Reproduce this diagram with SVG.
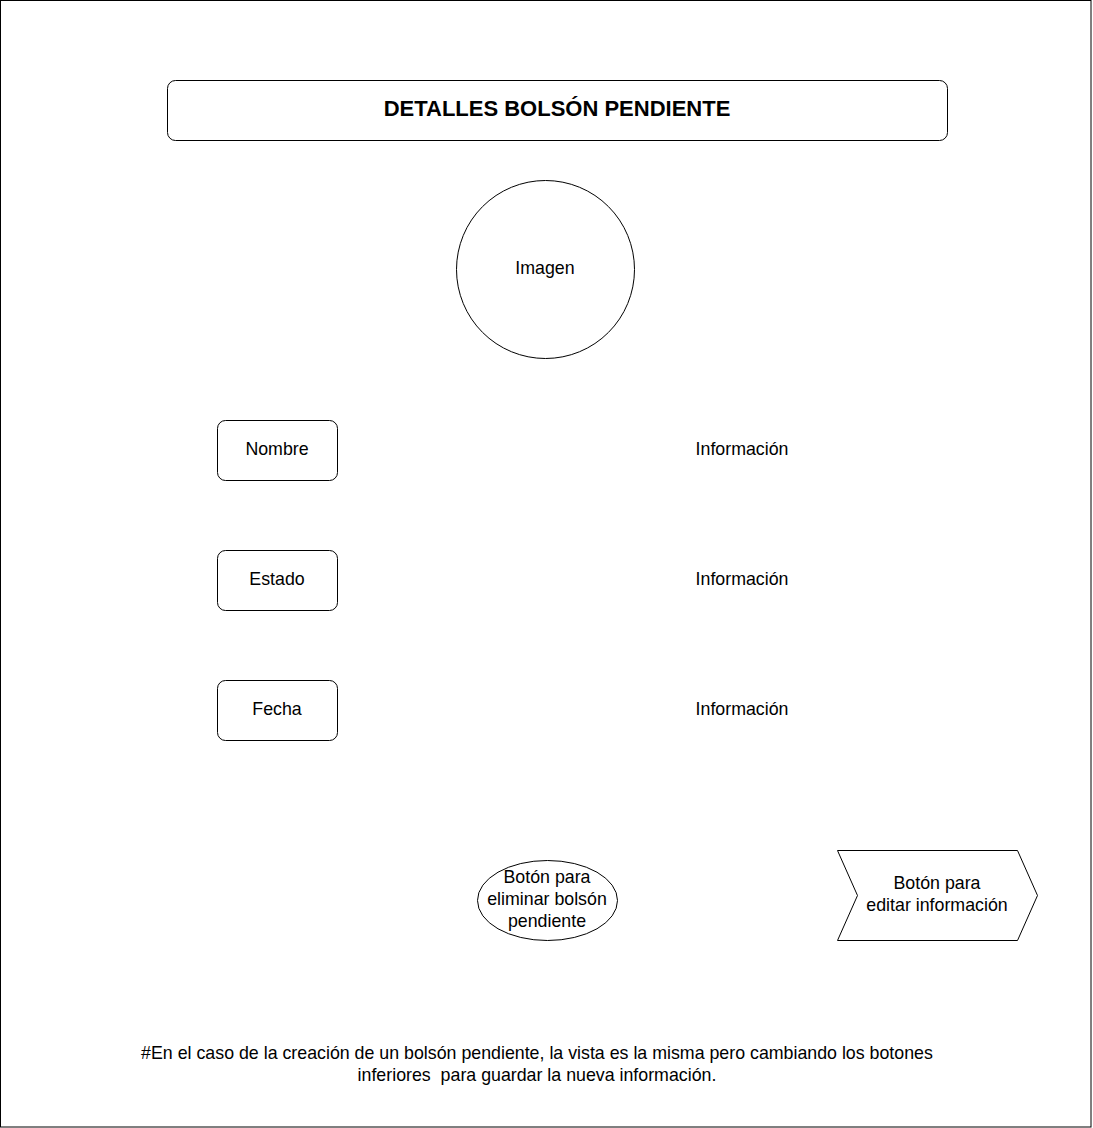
<svg xmlns="http://www.w3.org/2000/svg" width="1093" height="1128" viewBox="0 0 1093 1128">
<style>
.s{fill:#fff;stroke:#000;stroke-width:1}
.t{font-family:"Liberation Sans",Arial,sans-serif;font-size:17.8px;fill:#000;text-anchor:middle}
.b{font-weight:bold;font-size:22px}
</style>
<rect x="0" y="0" width="1093" height="1128" fill="#fff"/>
<g id="frame"><rect x="0.5" y="0.5" width="1090.5" height="1126.5" fill="none" stroke="#000"/></g>
<g id="connectors"></g>
<g id="title"><rect class="s" x="167.5" y="80.5" width="780" height="60" rx="8"/><text class="t b" x="557" y="115.5">DETALLES BOLSÓN PENDIENTE</text></g>
<g id="imagen"><circle class="s" cx="545.5" cy="269.5" r="89"/><text class="t" x="545" y="274">Imagen</text></g>
<g id="nombre"><rect class="s" x="217.5" y="420.5" width="120" height="60" rx="8"/><text class="t" x="277" y="455">Nombre</text></g>
<g id="estado"><rect class="s" x="217.5" y="550.5" width="120" height="60" rx="8"/><text class="t" x="277" y="585">Estado</text></g>
<g id="fecha"><rect class="s" x="217.5" y="680.5" width="120" height="60" rx="8"/><text class="t" x="277" y="715">Fecha</text></g>
<g id="info1"><text class="t" x="742" y="455">Información</text></g>
<g id="info2"><text class="t" x="742" y="585">Información</text></g>
<g id="info3"><text class="t" x="742" y="715">Información</text></g>
<g id="eliminar"><ellipse class="s" cx="547.5" cy="900.5" rx="70" ry="40"/><text class="t" x="547" y="883">Botón para</text><text class="t" x="547" y="905">eliminar bolsón</text><text class="t" x="547" y="927">pendiente</text></g>
<g id="editar"><polygon class="s" points="837.5,850.5 1017.5,850.5 1037.5,895.5 1017.5,940.5 837.5,940.5 857.5,895.5"/><text class="t" x="937" y="889">Botón para</text><text class="t" x="937" y="911">editar información</text></g>
<g id="nota"><text class="t" x="537" y="1059">#En el caso de la creación de un bolsón pendiente, la vista es la misma pero cambiando los botones</text><text class="t" x="537" y="1081" xml:space="preserve">inferiores  para guardar la nueva información.</text></g>
</svg>
